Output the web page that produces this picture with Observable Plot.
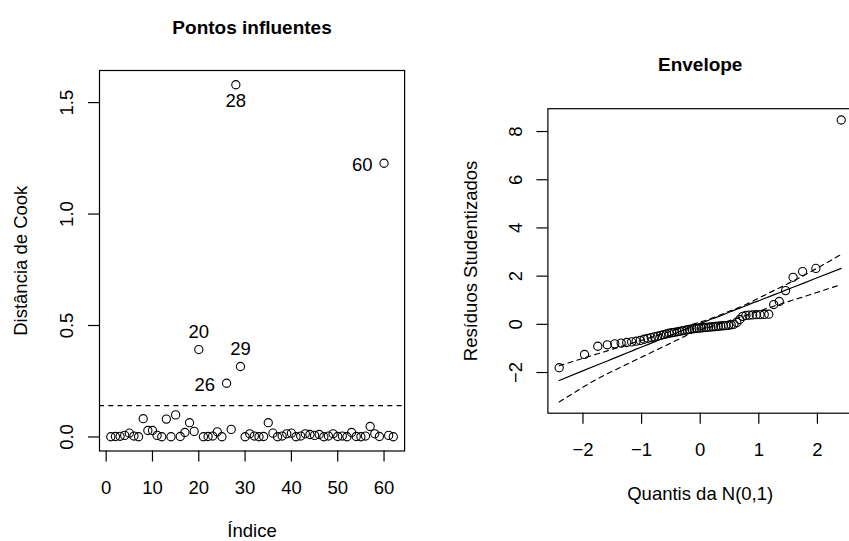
<!DOCTYPE html>
<html>
<head>
<meta charset="utf-8">
<script src="https://cdn.jsdelivr.net/npm/d3@7"></script>
<script src="https://cdn.jsdelivr.net/npm/@observablehq/plot@0.6"></script>
<style>
  html, body { margin: 0; padding: 0; background: white; }
  #fig { position: relative; width: 849px; height: 541px; overflow: hidden; background: white; }
  #fig svg { position: absolute; top: 0; }
</style>
</head>
<body>
<div id="fig"></div>
<script>
// ---------- Painel 1: Pontos influentes ----------
const indice = d3.range(1, 63);
const cook = [0.001,0.002,0.003,0.007,0.017,0.004,0.001,0.082,0.029,0.029,
              0.007,0.001,0.080,0.001,0.099,0.002,0.020,0.064,0.025,0.392,
              0.001,0.002,0.004,0.023,0.001,0.241,0.034,1.580,0.316,0.001,
              0.014,0.004,0.001,0.002,0.064,0.017,0.001,0.004,0.014,0.017,
              0.001,0.004,0.014,0.011,0.007,0.011,0.001,0.004,0.014,0.002,
              0.004,0.001,0.020,0.002,0.001,0.004,0.047,0.014,0.002,1.228,
              0.007,0.001];
const corte = 0.141;
const rotAcima = [20, 29];
const rotAbaixo = [28];
const rotEsquerda = [26, 60];
const ticksIndice = [0, 10, 20, 30, 40, 50, 60];
const ticksCook = [0, 0.5, 1.0, 1.5];

// ---------- Painel 2: Envelope ----------
const quantis = [-2.406,-1.974,-1.747,-1.585,-1.457,-1.349,-1.254,-1.170,-1.093,-1.022,
                 -0.956,-0.895,-0.836,-0.780,-0.726,-0.674,-0.624,-0.576,-0.529,-0.483,
                 -0.438,-0.394,-0.351,-0.308,-0.266,-0.224,-0.183,-0.142,-0.101,-0.061,
                 -0.020,0.020,0.061,0.101,0.142,0.183,0.224,0.266,0.308,0.351,
                 0.394,0.438,0.483,0.529,0.576,0.624,0.674,0.726,0.780,0.836,
                 0.895,0.956,1.022,1.093,1.170,1.254,1.349,1.457,1.585,1.747,
                 1.974,2.406];
const residuos = [-1.80,-1.25,-0.91,-0.85,-0.81,-0.78,-0.755,-0.73,-0.70,-0.67,
                  -0.62,-0.58,-0.55,-0.52,-0.49,-0.46,-0.43,-0.40,-0.37,-0.35,
                  -0.33,-0.31,-0.29,-0.27,-0.25,-0.23,-0.21,-0.19,-0.18,-0.17,
                  -0.16,-0.15,-0.14,-0.13,-0.12,-0.11,-0.10,-0.09,-0.08,-0.07,
                  -0.06,-0.05,-0.04,-0.02,0.00,0.08,0.20,0.33,0.37,0.38,
                  0.39,0.40,0.40,0.41,0.42,0.82,0.95,1.40,1.95,2.19,
                  2.32,8.48];
const envInf = [-3.22,-2.57,-2.25,-2.05,-1.90,-1.77,-1.66,-1.56,-1.47,-1.39,
                -1.31,-1.24,-1.17,-1.10,-1.04,-0.98,-0.92,-0.87,-0.81,-0.76,
                -0.70,-0.65,-0.60,-0.55,-0.50,-0.44,-0.39,-0.35,-0.32,-0.29,
                -0.26,-0.22,-0.19,-0.16,-0.13,-0.10,-0.06,-0.03,0.00,0.04,
                0.07,0.10,0.14,0.18,0.21,0.25,0.29,0.33,0.37,0.42,
                0.46,0.51,0.56,0.62,0.68,0.75,0.82,0.91,1.01,1.13,
                1.31,1.65];
const envMed = [-2.33,-1.90,-1.68,-1.52,-1.39,-1.29,-1.19,-1.11,-1.03,-0.96,
                -0.90,-0.84,-0.78,-0.73,-0.67,-0.62,-0.57,-0.53,-0.48,-0.43,
                -0.39,-0.35,-0.30,-0.26,-0.22,-0.18,-0.14,-0.10,-0.06,-0.02,
                0.02,0.06,0.09,0.13,0.17,0.21,0.24,0.28,0.32,0.36,
                0.40,0.45,0.49,0.54,0.58,0.63,0.67,0.72,0.77,0.83,
                0.89,0.94,1.00,1.07,1.14,1.22,1.31,1.42,1.54,1.69,
                1.91,2.32];
const envSup = [-1.72,-1.39,-1.22,-1.10,-1.00,-0.92,-0.85,-0.79,-0.73,-0.68,
                -0.63,-0.58,-0.54,-0.50,-0.46,-0.42,-0.38,-0.34,-0.31,-0.27,
                -0.24,-0.21,-0.17,-0.14,-0.11,-0.07,-0.04,-0.01,0.02,0.05,
                0.08,0.11,0.14,0.17,0.20,0.24,0.28,0.32,0.36,0.40,
                0.44,0.48,0.53,0.57,0.62,0.66,0.71,0.76,0.82,0.89,
                0.96,1.04,1.12,1.20,1.30,1.40,1.51,1.64,1.80,2.00,
                2.30,2.90];
const ticksQuantis = [-2, -1, 0, 1, 2];
const ticksResiduos = [-2, 0, 2, 4, 6, 8];

// ---------- estilos ----------
const FONT = "'Liberation Sans', Arial, Helvetica, sans-serif";
const FS = 18.5;
const FT = 19;
const LW = 1.2;
const R = 4.1;
const DASH = "5,4.3";
const fmtMinus = d => (d < 0 ? "\u2212" + (-d) : String(d));

const cookData = indice.map((i, k) => ({i, d: cook[k]}));
const labelRows = ids => cookData.filter(r => ids.includes(r.i));

const p1 = Plot.plot({
  width: 425, height: 541,
  marginLeft: 99, marginRight: 20.9, marginTop: 70, marginBottom: 90.5,
  style: {fontFamily: FONT, fontSize: FS + "px", color: "black", background: "white", overflow: "visible"},
  x: {domain: [-1.44, 64.44]},
  y: {domain: [-0.063, 1.644]},
  marks: [
    Plot.frame({stroke: "black", strokeWidth: LW}),
    Plot.axisX({ticks: ticksIndice, tickSize: 11, tickPadding: 19, tickFormat: fmtMinus, label: null, strokeWidth: LW}),
    Plot.axisY({ticks: ticksCook, tickSize: 11, tickPadding: 15.4, tickRotate: -90, tickFormat: d => d.toFixed(1), label: null, strokeWidth: LW}),
    Plot.ruleY([corte], {stroke: "black", strokeWidth: LW, strokeDasharray: DASH}),
    Plot.dot(cookData, {x: "i", y: "d", r: R, stroke: "black", strokeWidth: 1.1, fill: "none"}),
    Plot.text(labelRows(rotAcima), {x: "i", y: "d", text: d => String(d.i), lineAnchor: "bottom", dy: -11.6, fill: "black"}),
    Plot.text(labelRows(rotAbaixo), {x: "i", y: "d", text: d => String(d.i), lineAnchor: "top", dy: 9.4, fill: "black"}),
    Plot.text(labelRows(rotEsquerda), {x: "i", y: "d", text: d => String(d.i), textAnchor: "end", lineAnchor: "middle", dx: -11.5, dy: 1.5, fill: "black"}),
    Plot.text(["Pontos influentes"], {text: d => d, frameAnchor: "top", dy: -43, lineAnchor: "middle", fontWeight: "bold", fontSize: FT, fill: "black"}),
    Plot.text(["Índice"], {text: d => d, frameAnchor: "bottom", dy: 80, lineAnchor: "middle", fill: "black"}),
    Plot.text(["Distância de Cook"], {text: d => d, frameAnchor: "left", dx: -78, rotate: -90, textAnchor: "middle", lineAnchor: "middle", fill: "black"})
  ]
});
p1.style.left = "0px";

const envData = quantis.map((q, k) => ({q, res: residuos[k], inf: envInf[k], med: envMed[k], sup: envSup[k]}));

const p2 = Plot.plot({
  width: 430, height: 541,
  marginLeft: 117.4, marginRight: 8, marginTop: 108.2, marginBottom: 128.3,
  style: {fontFamily: FONT, fontSize: FS + "px", color: "black", background: "white", overflow: "visible"},
  x: {domain: [-2.5985, 2.5985]},
  y: {domain: [-3.688, 8.948]},
  marks: [
    Plot.frame({stroke: "black", strokeWidth: LW}),
    Plot.axisX({ticks: ticksQuantis, tickSize: 11, tickPadding: 19, tickFormat: fmtMinus, label: null, strokeWidth: LW}),
    Plot.axisY({ticks: ticksResiduos, tickSize: 11, tickPadding: 15.4, tickRotate: -90, tickFormat: fmtMinus, label: null, strokeWidth: LW}),
    Plot.dot(envData, {x: "q", y: "res", r: R, stroke: "black", strokeWidth: 1.1, fill: "none"}),
    Plot.line(envData, {x: "q", y: "med", stroke: "black", strokeWidth: LW}),
    Plot.line(envData, {x: "q", y: "inf", stroke: "black", strokeWidth: LW, strokeDasharray: DASH}),
    Plot.line(envData, {x: "q", y: "sup", stroke: "black", strokeWidth: LW, strokeDasharray: DASH}),
    Plot.text(["Envelope"], {text: d => d, frameAnchor: "top", dy: -44, lineAnchor: "middle", fontWeight: "bold", fontSize: FT, fill: "black"}),
    Plot.text(["Quantis da N(0,1)"], {text: d => d, frameAnchor: "bottom", dy: 81, lineAnchor: "middle", fill: "black"}),
    Plot.text(["Resíduos Studentizados"], {text: d => d, frameAnchor: "left", dx: -77, rotate: -90, textAnchor: "middle", lineAnchor: "middle", fill: "black"})
  ]
});
p2.style.left = "430px";

const fig = document.getElementById("fig");
fig.appendChild(p1);
fig.appendChild(p2);
</script>
</body>
</html>
